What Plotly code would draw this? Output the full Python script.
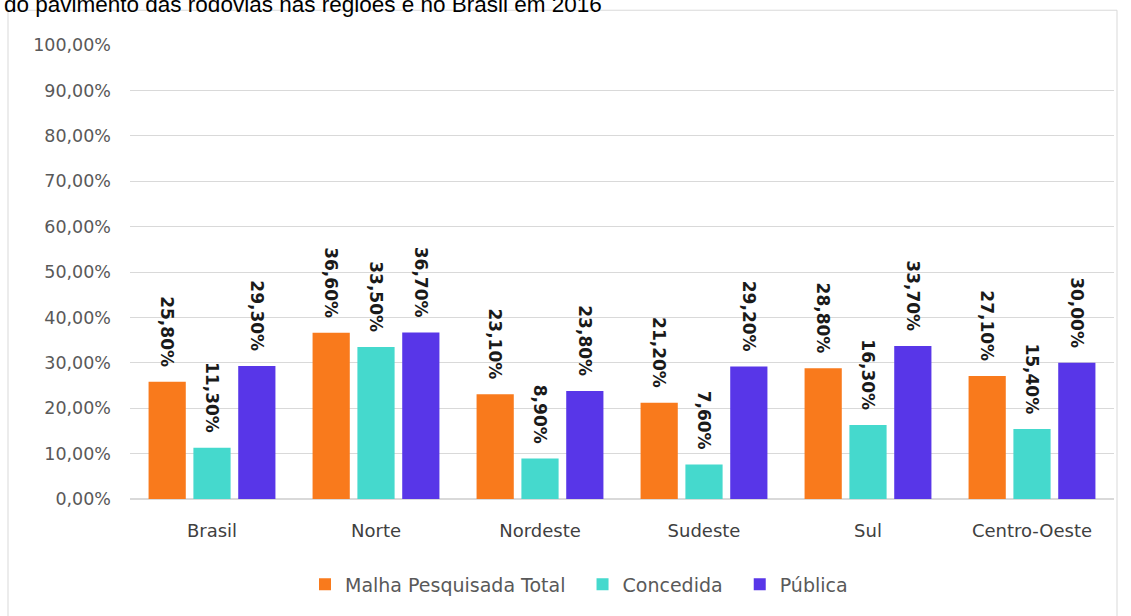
import plotly.graph_objects as go

categories = ["Brasil", "Norte", "Nordeste", "Sudeste", "Sul", "Centro-Oeste"]
malha_total = [0.258, 0.366, 0.231, 0.212, 0.288, 0.271]
concedida = [0.113, 0.335, 0.089, 0.076, 0.163, 0.154]
publica = [0.293, 0.367, 0.238, 0.292, 0.337, 0.300]
series_names = ["Malha Pesquisada Total", "Concedida", "Pública"]
series_colors = ["#F97A1C", "#45D9CD", "#5836E8"]
y_ticks = [i / 10 for i in range(11)]
title_text = "do pavimento das rodovias nas regiões e no Brasil em 2016"

W, H = 1131, 616
L, R, T, B = 130, 17, 45, 114
pw, ph = W - L - R, H - T - B

def px_x(p):
    return (p - L) / pw

def px_y(p):
    return (H - B - p) / ph

fig = go.Figure()
for name, vals, col in zip(series_names, [malha_total, concedida, publica], series_colors):
    fig.add_trace(go.Bar(
        name=name + "\u00a0\u00a0", x=categories, y=vals,
        marker=dict(color=col, line=dict(width=0)),
        texttemplate="%{y:.2%}\u00a0\u00a0",
        textposition="outside", textangle=90, constraintext="none",
        textfont=dict(family="DejaVu Sans", size=17, color="#1a1a1a", weight="bold"),
        cliponaxis=False,
    ))

fig.update_layout(
    width=W, height=H,
    margin=dict(l=L, r=R, t=T, b=B),
    paper_bgcolor="white", plot_bgcolor="white",
    separators=",.",
    barmode="group", bargap=0.18, bargroupgap=0.17,
    showlegend=True,
    legend=dict(orientation="h", x=px_x(305), xanchor="left", y=px_y(588), yanchor="middle",
                font=dict(family="DejaVu Sans", size=19, color="#595959"),
                bgcolor="rgba(0,0,0,0)"),
    xaxis=dict(showgrid=False, ticks="", showline=True, linecolor="#d9d9d9",
               tickfont=dict(family="DejaVu Sans", size=18, color="#404040"),
               ticklabelstandoff=15),
    yaxis=dict(range=[0, 1], tickvals=y_ticks, tickformat=".2%",
               showgrid=True, gridcolor="#d9d9d9", gridwidth=1,
               zeroline=True, zerolinecolor="#d9d9d9", showline=False, ticks="",
               tickfont=dict(family="DejaVu Sans", size=17.5, color="#595959"),
               ticklabelstandoff=18),
    shapes=[dict(type="rect", xref="paper", yref="paper",
                 x0=px_x(8), x1=px_x(1117), y0=px_y(640), y1=px_y(10),
                 line=dict(color="#d9d9d9", width=1), fillcolor="rgba(0,0,0,0)", layer="below")],
    annotations=[dict(text=title_text, xref="paper", yref="paper",
                      x=px_x(2), y=px_y(19), xanchor="left", yanchor="bottom",
                      showarrow=False,
                      font=dict(family="Liberation Sans", size=22.5, color="#000000"))],
)

fig.write_html("out.html")
